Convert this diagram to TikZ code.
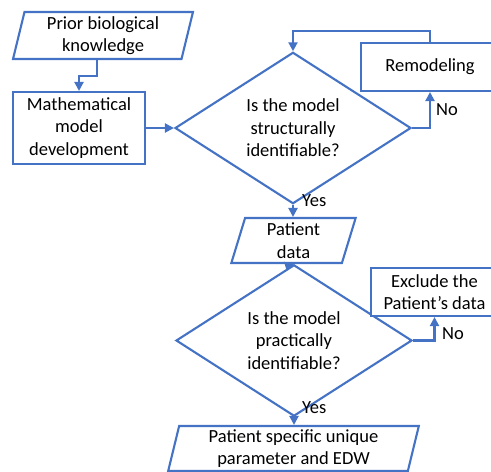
\documentclass[tikz,border=0pt]{standalone}
\usepackage{fontspec}
\setmainfont{Carlito}
\usetikzlibrary{arrows.meta,positioning,shapes.geometric,calc}
\definecolor{cLine}{HTML}{4472C4}
\definecolor{cText}{HTML}{000000}

\begin{document}
\begin{tikzpicture}[
  x=1pt, y=-1pt,
  >={Triangle[width=9pt,length=9pt]},
  font=\fontsize{18.5}{22.5}\selectfont,
  flowline/.style={draw=cLine, line width=2.1pt},
  procbox/.style={
    draw=cLine, line width=2.1pt, fill=white, text=cText,
    align=center, inner sep=0pt,
  },
  databox/.style={
    trapezium, trapezium left angle=78, trapezium right angle=102,
    trapezium stretches=true,
    draw=cLine, line width=2.1pt, fill=white, text=cText,
    align=center, inner sep=0pt,
  },
  decbox/.style={
    diamond, draw=cLine, line width=2.1pt, fill=white, text=cText,
    align=center, inner sep=0pt, minimum width=236pt,
  },
  lbl/.style={anchor=west, inner sep=0pt, text=cText},
]
\useasboundingbox (0,0) rectangle (491,472);

% --- model building (top) ---
\node[databox, minimum width=180pt, minimum height=47pt] (prior) at (103,35.5)
  {Prior biological\\knowledge};
\node[procbox, minimum width=132pt, minimum height=72pt] (mathdev) at (79,128)
  {Mathematical\\model\\development};
\node[decbox, minimum height=118pt] (structid) at (293,128)
  {Is the model\\structurally\\identifiable?};
% box runs off the right edge, as in the figure
\node[procbox, minimum width=138pt, minimum height=48pt] (remodel) at (430,67)
  {Remodeling};

% --- patient side (bottom) ---
\node[databox, minimum width=125pt, minimum height=45pt] (patdata) at (293.5,240.5)
  {Patient\\data};
\node[decbox, minimum height=107pt] (practid) at (294,340.5)
  {Is the model\\practically\\identifiable?};
\node[procbox, minimum width=127pt, minimum height=48pt] (exclude) at (434.5,292)
  {Exclude the\\Patient’s data};
\node[databox, minimum width=251pt, minimum height=45pt] (result) at (293.5,448.5)
  {Patient specific unique\\parameter and EDW};

% connectors
\draw[flowline, ->] (prior.bottom side) -- ++(0,16) -| (mathdev.north);
\draw[flowline, ->] (mathdev.east) -- (structid.west);
\draw[flowline, ->] (structid.east) -| (remodel.south);
\draw[flowline, ->] (remodel.north) -- ++(0,-11) -| (structid.north);
\draw[flowline, ->] (structid.south) -- (structid.south |- patdata.north);
\draw[flowline, ->] (structid.south |- patdata.south) -- (practid.north);
\draw[flowline, ->] (practid.east) -| (exclude.south);
\draw[flowline, ->] (practid.south) -- (practid.south |- result.north);

% branch labels
\node[lbl] (nostruct) at (436,110) {No};
\node[lbl] (yesstruct) at (302,201) {Yes};
\node[lbl] (nopract) at (442,334) {No};
\node[lbl] (yespract) at (302,408) {Yes};

\end{tikzpicture}
\end{document}
